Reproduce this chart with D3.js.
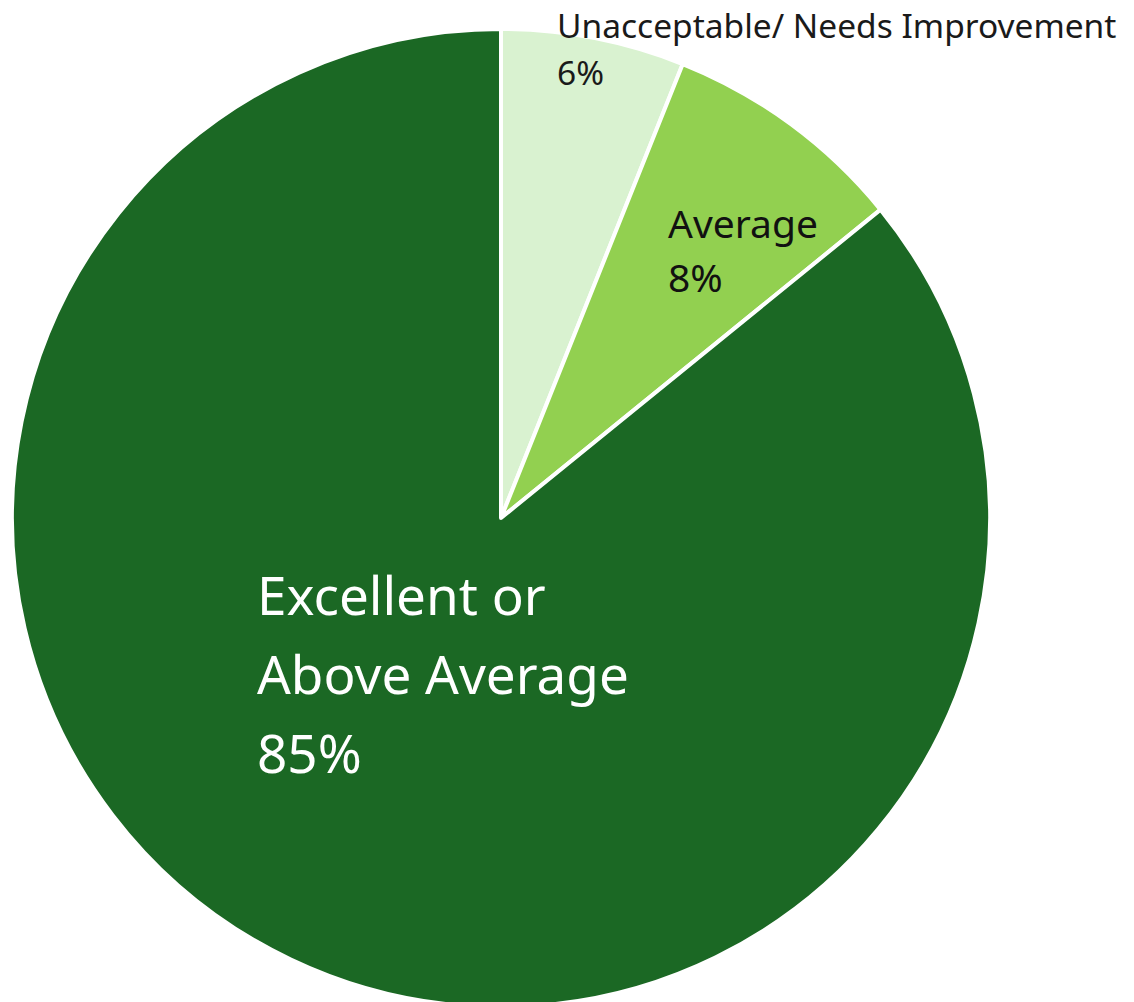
<!DOCTYPE html>
<html>
<head>
<meta charset="utf-8">
<script src="https://cdn.jsdelivr.net/npm/d3@7"></script>
<style>
  html, body { margin: 0; padding: 0; background: #ffffff; }
  svg { display: block; }
  text { font-family: "Noto Sans", "Open Sans", sans-serif; }
</style>
</head>
<body>
<svg id="chart" width="1134" height="1002"></svg>
<script>
// Rating shares, clockwise from 12 o'clock
const categories = ["Unacceptable/ Needs Improvement", "Average", "Excellent or Above Average"];
const labelLines = [["Unacceptable/ Needs Improvement"], ["Average"], ["Excellent or", "Above Average"]];
const values = [6, 8, 85];
const percentLabels = ["6%", "8%", "85%"];
const colors = ["#d9f2d0", "#92d050", "#1b6824"];
const textColors = ["#1a1a1a", "#111111", "#ffffff"];

const width = 1134, height = 1002;
const cx = 501, cy = 518, radius = 489;

const svg = d3.select("#chart");
const g = svg.append("g").attr("transform", `translate(${cx},${cy})`);

const pie = d3.pie().sort(null).value(d => d.value);
const arcs = pie(categories.map((c, i) => ({ name: c, value: values[i], i })));

const arc = d3.arc().innerRadius(0).outerRadius(radius);

g.selectAll("path.slice")
  .data(arcs)
  .join("path")
  .attr("class", "slice")
  .attr("d", arc)
  .attr("fill", d => colors[d.data.i])
  .attr("stroke", "#ffffff")
  .attr("stroke-width", 4)
  .attr("stroke-linejoin", "round");

// Label boxes: left edge and first baseline in page pixels, font size, line height
const labelStyle = [
  { x: 557, y: 38, size: 33.5, lh: 47 },
  { x: 668, y: 238, size: 39, lh: 54 },
  { x: 257, y: 615, size: 53, lh: 79 }
];

arcs.forEach(d => {
  const i = d.data.i;
  const s = labelStyle[i];
  const lines = labelLines[i].concat([percentLabels[i]]);
  const t = svg.append("text")
    .attr("fill", textColors[i])
    .attr("font-size", s.size);
  lines.forEach((ln, k) => {
    t.append("tspan").attr("x", s.x).attr("y", s.y + k * s.lh).text(ln);
  });
});
</script>
</body>
</html>
